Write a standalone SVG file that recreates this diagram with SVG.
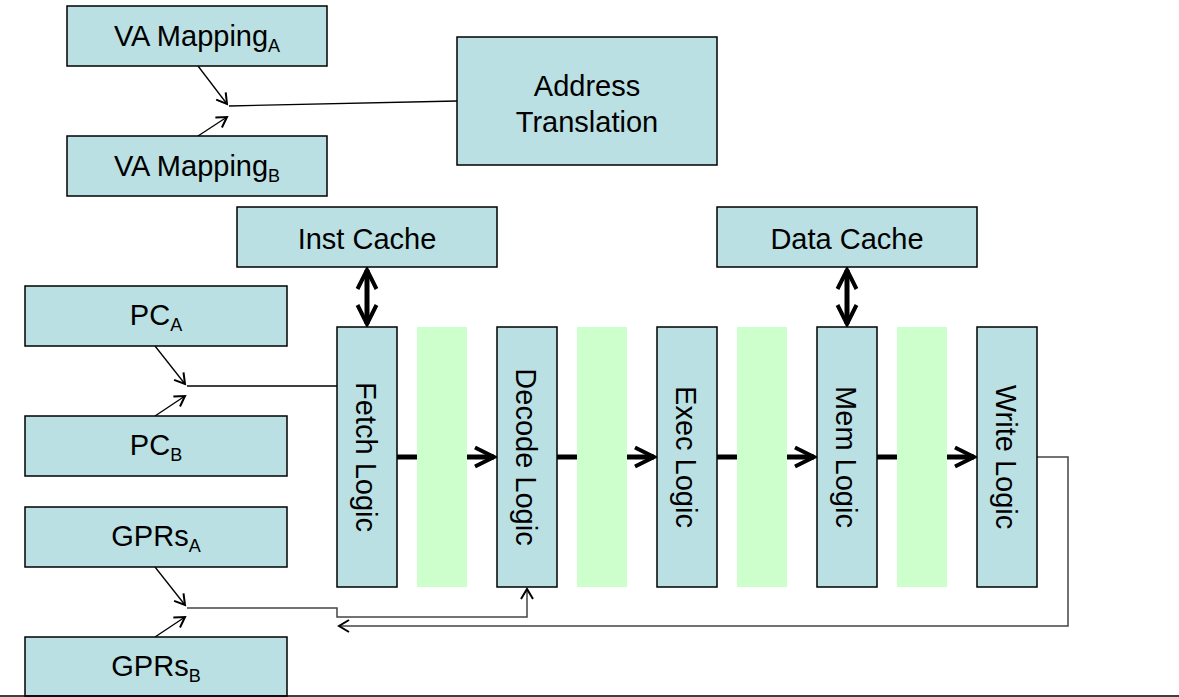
<svg xmlns="http://www.w3.org/2000/svg" width="1179" height="697" viewBox="0 0 1179 697">
<style>
.box{fill:#bae0e3;stroke:#000;stroke-width:1.5}
.latch{fill:#ccffcc;stroke:none}
.t{font-family:"Liberation Sans",Arial,Helvetica,sans-serif;font-size:29px;fill:#000;text-anchor:middle}
.s{font-size:18px}
.thin{fill:none;stroke:#000;stroke-width:1.3}
.grey{fill:none;stroke:#444;stroke-width:1.5}
.thick{fill:none;stroke:#000;stroke-width:5}
</style>
<defs>
<marker id="a" markerUnits="userSpaceOnUse" markerWidth="14" markerHeight="14" refX="11" refY="6" orient="auto" overflow="visible">
<path d="M1,0 L11,6 L1,12" fill="none" stroke="#000" stroke-width="2"/>
</marker>
<marker id="b" markerUnits="userSpaceOnUse" markerWidth="26" markerHeight="26" refX="21" refY="11" orient="auto-start-reverse" overflow="visible">
<path d="M2,1.5 L21,11 L2,20.5" fill="none" stroke="#000" stroke-width="4"/>
</marker>
</defs>
<g id="connectors">
<line class="thin" x1="198" y1="66" x2="227" y2="104" marker-end="url(#a)"/>
<line class="thin" x1="198" y1="136" x2="227" y2="117" marker-end="url(#a)"/>
<line class="thin" x1="457" y1="101" x2="229" y2="106"/>
<line class="thin" x1="155" y1="346" x2="185" y2="384" marker-end="url(#a)"/>
<line class="thin" x1="155" y1="416" x2="185" y2="396" marker-end="url(#a)"/>
<line class="thin" x1="187" y1="386" x2="337" y2="386"/>
<line class="thin" x1="155" y1="567" x2="185" y2="605" marker-end="url(#a)"/>
<line class="thin" x1="155" y1="637" x2="185" y2="617" marker-end="url(#a)"/>
<polyline class="grey" points="187,608 337,608 337,617 527,617 527,589" marker-end="url(#a)"/>
<polyline class="grey" points="1036,457 1068,457 1068,626 339,626" marker-end="url(#a)"/>
<line class="thick" x1="397" y1="457" x2="494" y2="457" marker-end="url(#b)"/>
<line class="thick" x1="557" y1="457" x2="654" y2="457" marker-end="url(#b)"/>
<line class="thick" x1="717" y1="457" x2="814" y2="457" marker-end="url(#b)"/>
<line class="thick" x1="877" y1="457" x2="974" y2="457" marker-end="url(#b)"/>
<line class="thick" x1="367" y1="270" x2="367" y2="324" marker-start="url(#b)" marker-end="url(#b)"/>
<line class="thick" x1="847" y1="270" x2="847" y2="324" marker-start="url(#b)" marker-end="url(#b)"/>
</g>
<g id="latches">
<rect class="latch" x="417" y="327" width="50" height="260"/>
<rect class="latch" x="577" y="327" width="50" height="260"/>
<rect class="latch" x="737" y="327" width="50" height="260"/>
<rect class="latch" x="897" y="327" width="50" height="260"/>
</g>
<g id="va_a"><rect class="box" x="67" y="6" width="260" height="60"/><text class="t" x="197" y="46">VA Mapping<tspan class="s" dy="6">A</tspan></text></g>
<g id="va_b"><rect class="box" x="67" y="136" width="260" height="60"/><text class="t" x="197" y="176">VA Mapping<tspan class="s" dy="6">B</tspan></text></g>
<g id="addr"><rect class="box" x="457" y="37" width="260" height="128"/><text class="t" x="587" y="96">Address</text><text class="t" x="587" y="132">Translation</text></g>
<g id="inst"><rect class="box" x="237" y="207" width="260" height="60"/><text class="t" x="367" y="249">Inst Cache</text></g>
<g id="data"><rect class="box" x="717" y="207" width="260" height="60"/><text class="t" x="847" y="249">Data Cache</text></g>
<g id="pc_a"><rect class="box" x="25" y="286" width="262" height="60"/><text class="t" x="156" y="325">PC<tspan class="s" dy="6">A</tspan></text></g>
<g id="pc_b"><rect class="box" x="25" y="416" width="262" height="60"/><text class="t" x="156" y="455">PC<tspan class="s" dy="6">B</tspan></text></g>
<g id="gpr_a"><rect class="box" x="25" y="507" width="262" height="60"/><text class="t" x="156" y="546">GPRs<tspan class="s" dy="6">A</tspan></text></g>
<g id="gpr_b"><rect class="box" x="25" y="637" width="262" height="59"/><text class="t" x="156" y="676">GPRs<tspan class="s" dy="6">B</tspan></text></g>
<g id="fetch"><rect class="box" x="337" y="327" width="60" height="260"/><text class="t" transform="translate(367,457) rotate(90)" x="0" y="11">Fetch Logic</text></g>
<g id="decode"><rect class="box" x="497" y="327" width="60" height="260"/><text class="t" transform="translate(527,457) rotate(90)" x="0" y="11">Decode Logic</text></g>
<g id="exec"><rect class="box" x="657" y="327" width="60" height="260"/><text class="t" transform="translate(687,457) rotate(90)" x="0" y="11">Exec Logic</text></g>
<g id="mem"><rect class="box" x="817" y="327" width="60" height="260"/><text class="t" transform="translate(847,457) rotate(90)" x="0" y="11">Mem Logic</text></g>
<g id="write"><rect class="box" x="977" y="327" width="60" height="260"/><text class="t" transform="translate(1007,457) rotate(90)" x="0" y="11">Write Logic</text></g>
<line x1="0" y1="696" x2="1179" y2="696" stroke="#000" stroke-width="1.5"/>
</svg>
